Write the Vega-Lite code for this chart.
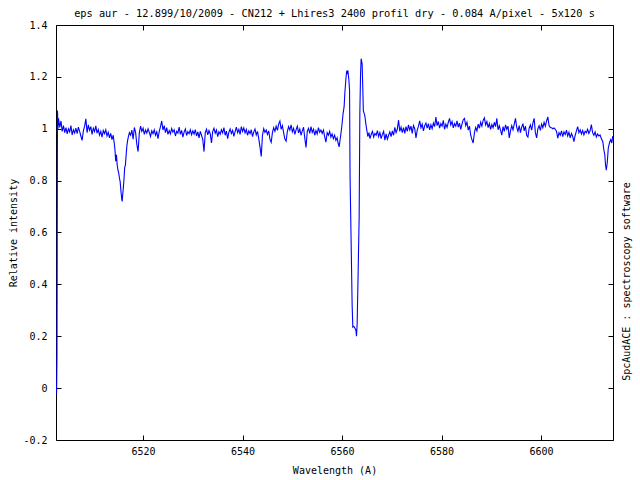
{
"$schema": "https://vega.github.io/schema/vega-lite/v6.json",
"width": 557, "height": 415,
"autosize": {"type": "none"},
"padding": {"left": 56, "top": 25, "right": 27, "bottom": 40},
"background": "white",
"title": {"text": "eps aur - 12.899/10/2009 - CN212 + Lhires3 2400 profil dry - 0.084 A/pixel - 5x120 s", "anchor": "middle", "frame": "group", "font": "DejaVu Sans Mono", "fontSize": 10.3, "fontWeight": "normal", "color": "black", "baseline": "middle", "offset": -4},
"config": {
 "view": {"stroke": "black", "strokeWidth": 1},
 "axis": {"domain": false, "grid": false, "ticks": true, "tickColor": "black", "tickSize": -5, "tickWidth": 1, "labelFont": "DejaVu Sans Mono", "labelFontSize": 10, "labelColor": "black", "titleFont": "DejaVu Sans Mono", "titleFontSize": 10, "titleFontWeight": "normal", "titleColor": "black"}
},
"data": {"values": [
{"w":6502.55,"f":0.005},{"w":6502.62,"f":-0.02},{"w":6502.70,"f":0.13},{"w":6502.80,"f":1.07},{"w":6502.90,"f":1.0},
{"w":6503.00,"f":1.040},{"w":6503.25,"f":1.005},{"w":6503.50,"f":1.030},{"w":6503.75,"f":0.990},{"w":6504.00,"f":1.012},{"w":6504.25,"f":0.985},{"w":6504.50,"f":1.004},{"w":6504.75,"f":0.980},{"w":6505.00,"f":1.000},{"w":6505.25,"f":0.988},{"w":6505.50,"f":1.012},{"w":6505.75,"f":0.976},{"w":6506.00,"f":0.996},{"w":6506.25,"f":0.984},{"w":6506.50,"f":1.002},{"w":6506.75,"f":0.981},{"w":6507.00,"f":1.006},{"w":6507.25,"f":0.990},{"w":6507.50,"f":0.972},{"w":6507.75,"f":0.955},{"w":6508.00,"f":0.992},{"w":6508.25,"f":1.010},{"w":6508.50,"f":1.038},{"w":6508.75,"f":0.985},{"w":6509.00,"f":1.015},{"w":6509.25,"f":0.994},{"w":6509.50,"f":1.008},{"w":6509.75,"f":0.978},{"w":6510.00,"f":1.002},{"w":6510.25,"f":0.989},{"w":6510.50,"f":1.011},{"w":6510.75,"f":0.983},{"w":6511.00,"f":0.997},{"w":6511.25,"f":0.975},{"w":6511.50,"f":0.990},{"w":6511.75,"f":0.968},{"w":6512.00,"f":0.993},{"w":6512.25,"f":0.981},{"w":6512.50,"f":0.996},{"w":6512.75,"f":0.972},{"w":6513.00,"f":0.986},{"w":6513.25,"f":0.965},{"w":6513.50,"f":0.982},{"w":6513.75,"f":0.958},
{"w":6514.00,"f":0.975},{"w":6514.20,"f":0.945},{"w":6514.35,"f":0.920},{"w":6514.50,"f":0.875},{"w":6514.65,"f":0.900},{"w":6514.80,"f":0.860},{"w":6514.95,"f":0.840},{"w":6515.10,"f":0.830},{"w":6515.25,"f":0.810},{"w":6515.40,"f":0.795},{"w":6515.55,"f":0.760},{"w":6515.70,"f":0.730},{"w":6515.80,"f":0.720},{"w":6515.90,"f":0.745},{"w":6516.00,"f":0.765},{"w":6516.15,"f":0.800},{"w":6516.30,"f":0.850},{"w":6516.45,"f":0.860},{"w":6516.60,"f":0.900},{"w":6516.75,"f":0.935},{"w":6516.90,"f":0.955},{"w":6517.05,"f":0.970},{"w":6517.25,"f":0.985},{"w":6517.50,"f":0.975},
{"w":6517.75,"f":0.995},{"w":6518.00,"f":0.960},{"w":6518.25,"f":1.005},{"w":6518.50,"f":0.985},{"w":6518.75,"f":0.940},{"w":6519.00,"f":0.912},{"w":6519.25,"f":0.985},{"w":6519.50,"f":1.010},{"w":6519.75,"f":0.990},{"w":6520.00,"f":1.002},{"w":6520.25,"f":0.978},{"w":6520.50,"f":0.995},{"w":6520.75,"f":0.983},{"w":6521.00,"f":1.000},{"w":6521.25,"f":0.986},{"w":6521.50,"f":0.970},{"w":6521.75,"f":0.992},{"w":6522.00,"f":0.981},{"w":6522.25,"f":0.996},{"w":6522.50,"f":0.975},{"w":6522.75,"f":0.988},{"w":6523.00,"f":0.962},{"w":6523.25,"f":0.990},{"w":6523.50,"f":1.008},{"w":6523.75,"f":1.030},{"w":6524.00,"f":0.995},{"w":6524.25,"f":1.012},{"w":6524.50,"f":0.985},{"w":6524.75,"f":1.004},{"w":6525.00,"f":0.978},{"w":6525.25,"f":0.993},{"w":6525.50,"f":0.980},{"w":6525.75,"f":1.001},{"w":6526.00,"f":0.987},{"w":6526.25,"f":0.996},{"w":6526.50,"f":0.972},{"w":6526.75,"f":0.990},{"w":6527.00,"f":0.983},{"w":6527.25,"f":1.006},{"w":6527.50,"f":0.978},{"w":6527.75,"f":0.994},{"w":6528.00,"f":0.968},{"w":6528.25,"f":0.987},{"w":6528.50,"f":0.999},{"w":6528.75,"f":0.974},{"w":6529.00,"f":0.989},{"w":6529.25,"f":0.981},{"w":6529.50,"f":0.996},{"w":6529.75,"f":0.977},
{"w":6530.00,"f":0.992},{"w":6530.25,"f":0.980},{"w":6530.50,"f":0.997},{"w":6530.75,"f":0.972},{"w":6531.00,"f":0.988},{"w":6531.25,"f":0.965},{"w":6531.50,"f":0.990},{"w":6531.75,"f":0.975},{"w":6532.00,"f":0.958},{"w":6532.25,"f":0.912},{"w":6532.50,"f":0.985},{"w":6532.75,"f":0.998},{"w":6533.00,"f":0.976},{"w":6533.25,"f":0.993},{"w":6533.50,"f":0.981},{"w":6533.75,"f":0.945},{"w":6534.00,"f":0.990},{"w":6534.25,"f":1.002},{"w":6534.50,"f":0.983},{"w":6534.75,"f":0.995},{"w":6535.00,"f":0.970},{"w":6535.25,"f":0.988},{"w":6535.50,"f":0.979},{"w":6535.75,"f":0.996},{"w":6536.00,"f":0.984},{"w":6536.25,"f":1.004},{"w":6536.50,"f":0.975},{"w":6536.75,"f":0.991},{"w":6537.00,"f":0.962},{"w":6537.25,"f":0.987},{"w":6537.50,"f":0.999},{"w":6537.75,"f":0.982},{"w":6538.00,"f":0.994},{"w":6538.25,"f":0.971},{"w":6538.50,"f":0.989},{"w":6538.75,"f":1.006},{"w":6539.00,"f":0.985},{"w":6539.25,"f":0.998},{"w":6539.50,"f":0.978},{"w":6539.75,"f":1.008},{"w":6540.00,"f":0.990},{"w":6540.25,"f":1.003},{"w":6540.50,"f":0.984},{"w":6540.75,"f":0.997},{"w":6541.00,"f":0.975},{"w":6541.25,"f":0.992},{"w":6541.50,"f":0.981},{"w":6541.75,"f":0.996},{"w":6542.00,"f":0.970},{"w":6542.25,"f":0.988},{"w":6542.50,"f":0.999},{"w":6542.75,"f":0.976},{"w":6543.00,"f":0.990},{"w":6543.25,"f":0.962},{"w":6543.50,"f":0.930},{"w":6543.75,"f":0.893},{"w":6544.00,"f":0.975},{"w":6544.25,"f":1.000},{"w":6544.50,"f":0.986},{"w":6544.75,"f":0.995},
{"w":6545.00,"f":0.978},{"w":6545.25,"f":0.992},{"w":6545.50,"f":0.960},{"w":6545.75,"f":0.948},{"w":6546.00,"f":0.985},{"w":6546.25,"f":1.004},{"w":6546.50,"f":0.990},{"w":6546.75,"f":1.010},{"w":6547.00,"f":0.994},{"w":6547.25,"f":1.018},{"w":6547.50,"f":1.030},{"w":6547.75,"f":0.998},{"w":6548.00,"f":1.012},{"w":6548.25,"f":0.985},{"w":6548.50,"f":0.960},{"w":6548.75,"f":0.952},{"w":6549.00,"f":0.990},{"w":6549.25,"f":1.008},{"w":6549.50,"f":0.995},{"w":6549.75,"f":1.015},{"w":6550.00,"f":0.988},{"w":6550.25,"f":1.002},{"w":6550.50,"f":0.978},{"w":6550.75,"f":0.996},{"w":6551.00,"f":1.010},{"w":6551.25,"f":0.984},{"w":6551.50,"f":0.999},{"w":6551.75,"f":0.975},{"w":6552.00,"f":0.992},{"w":6552.25,"f":1.006},{"w":6552.50,"f":0.965},{"w":6552.75,"f":0.928},{"w":6553.00,"f":0.990},{"w":6553.25,"f":1.002},{"w":6553.50,"f":0.982},{"w":6553.75,"f":1.008},{"w":6554.00,"f":0.986},{"w":6554.25,"f":0.998},{"w":6554.50,"f":0.975},{"w":6554.75,"f":0.993},{"w":6555.00,"f":0.980},{"w":6555.25,"f":1.004},{"w":6555.50,"f":0.986},{"w":6555.75,"f":0.995},
{"w":6556.00,"f":0.982},{"w":6556.25,"f":0.995},{"w":6556.50,"f":0.970},{"w":6556.75,"f":0.948},{"w":6557.00,"f":0.985},{"w":6557.25,"f":0.975},{"w":6557.50,"f":0.990},{"w":6557.75,"f":0.968},{"w":6558.00,"f":0.980},{"w":6558.25,"f":0.962},{"w":6558.50,"f":0.975},{"w":6558.75,"f":0.955},{"w":6559.00,"f":0.965},{"w":6559.20,"f":0.945},{"w":6559.41,"f":0.930},
{"w":6559.55,"f":0.950},{"w":6559.89,"f":1.000},{"w":6560.21,"f":1.060},{"w":6560.41,"f":1.085},{"w":6560.56,"f":1.140},{"w":6560.76,"f":1.190},{"w":6560.90,"f":1.220},{"w":6561.05,"f":1.215},{"w":6561.16,"f":1.225},{"w":6561.36,"f":1.190},{"w":6561.50,"f":1.150},{"w":6561.60,"f":0.820},{"w":6561.82,"f":0.560},{"w":6562.02,"f":0.320},{"w":6562.16,"f":0.235},{"w":6562.36,"f":0.238},{"w":6562.56,"f":0.232},{"w":6562.77,"f":0.224},{"w":6562.90,"f":0.200},{"w":6563.03,"f":0.250},{"w":6563.23,"f":0.450},{"w":6563.43,"f":0.660},{"w":6563.57,"f":1.060},{"w":6563.71,"f":1.210},{"w":6563.83,"f":1.270},{"w":6564.03,"f":1.250},{"w":6564.17,"f":1.150},{"w":6564.27,"f":1.070},{"w":6564.42,"f":1.060},{"w":6564.57,"f":1.050},{"w":6564.77,"f":1.020},{"w":6564.97,"f":0.995},{"w":6565.17,"f":0.970},
{"w":6565.40,"f":0.985},{"w":6565.60,"f":0.962},{"w":6565.85,"f":0.978},{"w":6566.10,"f":0.990},{"w":6566.35,"f":0.968},{"w":6566.60,"f":0.982},{"w":6566.85,"f":0.975},{"w":6567.10,"f":0.993},{"w":6567.35,"f":0.970},{"w":6567.60,"f":0.985},{"w":6567.85,"f":0.962},{"w":6568.10,"f":0.978},{"w":6568.35,"f":0.990},{"w":6568.60,"f":0.956},{"w":6568.85,"f":0.980},{"w":6569.10,"f":0.960},{"w":6569.35,"f":0.975},{"w":6569.60,"f":0.988},{"w":6569.85,"f":0.970},
{"w":6570.10,"f":0.992},{"w":6570.35,"f":0.975},{"w":6570.60,"f":1.005},{"w":6570.85,"f":0.985},{"w":6571.10,"f":0.998},{"w":6571.35,"f":1.033},{"w":6571.60,"f":0.990},{"w":6571.85,"f":1.006},{"w":6572.10,"f":0.985},{"w":6572.35,"f":1.004},{"w":6572.60,"f":0.982},{"w":6572.85,"f":1.008},{"w":6573.10,"f":0.990},{"w":6573.35,"f":1.015},{"w":6573.60,"f":0.995},{"w":6573.85,"f":1.010},{"w":6574.10,"f":0.982},{"w":6574.35,"f":1.012},{"w":6574.60,"f":1.000},{"w":6574.85,"f":0.965},{"w":6575.10,"f":0.995},{"w":6575.35,"f":1.010},{"w":6575.60,"f":1.030},{"w":6575.85,"f":1.004},{"w":6576.10,"f":1.018},{"w":6576.35,"f":0.992},{"w":6576.60,"f":1.012},{"w":6576.85,"f":1.022},{"w":6577.10,"f":1.002},{"w":6577.35,"f":1.020},{"w":6577.60,"f":0.996},{"w":6577.85,"f":1.015},
{"w":6578.10,"f":1.000},{"w":6578.35,"f":1.022},{"w":6578.60,"f":1.008},{"w":6578.85,"f":1.045},{"w":6579.10,"f":1.012},{"w":6579.35,"f":1.028},{"w":6579.60,"f":1.002},{"w":6579.85,"f":1.020},{"w":6580.10,"f":1.010},{"w":6580.35,"f":1.032},{"w":6580.60,"f":0.998},{"w":6580.85,"f":1.018},{"w":6581.10,"f":1.005},{"w":6581.35,"f":1.025},{"w":6581.60,"f":1.040},{"w":6581.85,"f":1.015},{"w":6582.10,"f":1.028},{"w":6582.35,"f":1.003},{"w":6582.60,"f":1.020},{"w":6582.85,"f":1.010},{"w":6583.10,"f":1.030},{"w":6583.35,"f":1.006},{"w":6583.60,"f":1.022},{"w":6583.85,"f":0.998},{"w":6584.10,"f":1.018},{"w":6584.35,"f":1.035},{"w":6584.60,"f":1.040},{"w":6584.85,"f":1.012},{"w":6585.10,"f":1.025},{"w":6585.35,"f":0.995},{"w":6585.60,"f":1.010},{"w":6585.85,"f":0.975},{"w":6586.10,"f":0.958},{"w":6586.35,"f":0.945},{"w":6586.60,"f":0.985},{"w":6586.85,"f":1.005},{"w":6587.10,"f":0.992},{"w":6587.35,"f":1.018},{"w":6587.60,"f":1.002},{"w":6587.85,"f":1.025},{"w":6588.10,"f":1.010},{"w":6588.35,"f":1.032},{"w":6588.60,"f":1.042},{"w":6588.85,"f":1.015},{"w":6589.10,"f":1.028},{"w":6589.35,"f":1.004},{"w":6589.60,"f":1.020},{"w":6589.85,"f":0.998},{"w":6590.10,"f":1.016},{"w":6590.35,"f":1.004},{"w":6590.60,"f":1.025},{"w":6590.85,"f":1.008},{"w":6591.10,"f":1.040},{"w":6591.35,"f":0.996},
{"w":6591.60,"f":1.012},{"w":6591.85,"f":0.995},{"w":6592.10,"f":0.975},{"w":6592.35,"f":1.008},{"w":6592.60,"f":0.990},{"w":6592.85,"f":1.015},{"w":6593.10,"f":0.998},{"w":6593.35,"f":1.010},{"w":6593.60,"f":0.965},{"w":6593.85,"f":0.992},{"w":6594.10,"f":1.012},{"w":6594.35,"f":0.996},{"w":6594.60,"f":1.018},{"w":6594.85,"f":1.040},{"w":6595.10,"f":1.005},{"w":6595.35,"f":0.990},{"w":6595.60,"f":1.012},{"w":6595.85,"f":0.985},{"w":6596.10,"f":1.006},{"w":6596.35,"f":1.020},{"w":6596.60,"f":0.992},{"w":6596.85,"f":1.010},{"w":6597.10,"f":0.975},{"w":6597.35,"f":0.968},{"w":6597.60,"f":1.002},{"w":6597.85,"f":1.015},{"w":6598.10,"f":0.995},{"w":6598.35,"f":1.022},{"w":6598.60,"f":1.040},{"w":6598.85,"f":0.985},{"w":6599.10,"f":0.965},{"w":6599.35,"f":1.000},{"w":6599.60,"f":1.012},{"w":6599.85,"f":0.994},{"w":6600.10,"f":1.018},{"w":6600.35,"f":1.004},{"w":6600.60,"f":1.025},{"w":6600.85,"f":1.010},{"w":6601.10,"f":1.030},{"w":6601.35,"f":1.046},{"w":6601.60,"f":1.012},{"w":6601.85,"f":1.005},{"w":6602.10,"f":1.004},{"w":6602.35,"f":1.000},{"w":6602.60,"f":1.003},{"w":6602.85,"f":0.998},
{"w":6603.10,"f":0.990},{"w":6603.35,"f":0.964},{"w":6603.60,"f":0.985},{"w":6603.85,"f":0.975},{"w":6604.10,"f":0.992},{"w":6604.35,"f":0.970},{"w":6604.60,"f":0.988},{"w":6604.85,"f":0.978},{"w":6605.10,"f":0.995},{"w":6605.35,"f":0.972},{"w":6605.60,"f":0.986},{"w":6605.85,"f":0.965},{"w":6606.10,"f":0.982},{"w":6606.35,"f":0.970},{"w":6606.60,"f":0.950},{"w":6606.85,"f":0.975},{"w":6607.10,"f":0.992},{"w":6607.35,"f":1.008},{"w":6607.60,"f":0.985},{"w":6607.85,"f":0.996},{"w":6608.10,"f":0.980},{"w":6608.35,"f":0.993},{"w":6608.60,"f":0.976},{"w":6608.85,"f":0.990},{"w":6609.10,"f":0.985},{"w":6609.35,"f":0.998},{"w":6609.60,"f":0.982},{"w":6609.85,"f":0.992},{"w":6610.10,"f":1.016},{"w":6610.35,"f":0.985},{"w":6610.60,"f":0.975},{"w":6610.85,"f":0.988},{"w":6611.10,"f":0.968},{"w":6611.35,"f":0.980},{"w":6611.60,"f":0.972},{"w":6611.85,"f":0.976},{"w":6612.10,"f":0.962},{"w":6612.40,"f":0.950},{"w":6612.60,"f":0.920},{"w":6612.80,"f":0.900},{"w":6612.95,"f":0.860},{"w":6613.10,"f":0.840},{"w":6613.30,"f":0.870},{"w":6613.50,"f":0.925},{"w":6613.80,"f":0.950},{"w":6614.00,"f":0.958},{"w":6614.20,"f":0.945},{"w":6614.40,"f":0.972}
]},
"layer": [
 {"mark": {"type": "line", "color": "#0000ff", "strokeWidth": 1.1, "clip": true},
  "encoding": {
   "x": {"field": "w", "type": "quantitative", "scale": {"domain": [6502.5, 6614.45], "nice": false, "zero": false},
     "axis": {"orient": "bottom", "values": [6520, 6540, 6560, 6580, 6600], "format": "d", "labelPadding": 11, "title": "Wavelength (A)", "titleX": 278.5, "titleY": 30, "titleBaseline": "middle", "titleAlign": "center", "titleAngle": 0}},
   "y": {"field": "f", "type": "quantitative", "scale": {"domain": [-0.2, 1.4], "nice": false, "zero": false},
     "axis": {"orient": "left", "values": [-0.2, 0, 0.2, 0.4, 0.6, 0.8, 1, 1.2, 1.4], "labelExpr": "replace(format(datum.value, '~g'), '\u2212', '-')", "labelPadding": 14, "title": "Relative intensity", "titleX": -43, "titleY": 207.5, "titleAngle": -90, "titleBaseline": "middle", "titleAlign": "center"}}
  }},
 {"mark": {"type": "line", "strokeOpacity": 0},
  "encoding": {
   "x": {"field": "w", "type": "quantitative", "axis": {"orient": "top", "values": [6520, 6540, 6560, 6580, 6600], "labels": false, "title": null}},
   "y": {"field": "f", "type": "quantitative", "axis": {"orient": "right", "values": [-0.2, 0, 0.2, 0.4, 0.6, 0.8, 1, 1.2, 1.4], "labels": false, "title": "SpcAudACE : spectroscopy software", "titleX": 13, "titleY": 256, "titleAngle": -90, "titleBaseline": "middle", "titleAlign": "center"}}
  }}
],
"resolve": {"axis": {"x": "independent", "y": "independent"}}
}
